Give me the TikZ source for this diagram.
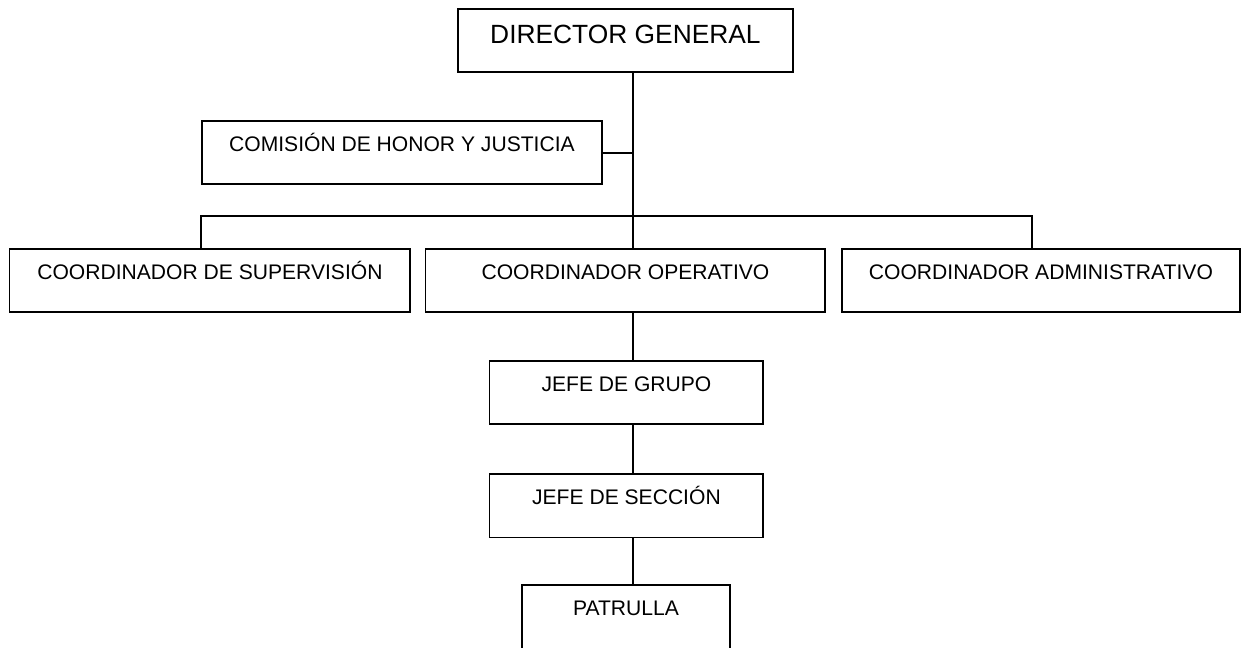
\documentclass[tikz,border=0pt]{standalone}
\usepackage{fontspec}
\setmainfont{Liberation Sans}
\tikzset{
  orgbox/.style={draw, line width=1.1pt, anchor=north west, inner sep=0pt,
    text height=0.61cm, text depth=0.66cm, font=\fontsize{12}{14}\selectfont},
  topbox/.style={orgbox, text height=0.70cm, text depth=0.56cm,
    font=\fontsize{15}{18}\selectfont}
}
\begin{document}
\begin{tikzpicture}[x=0.02cm,y=-0.02cm]
      \useasboundingbox (0,0) rectangle (1241,647);
      \clip (0,0) rectangle (1241,647);
      \path
        (457,8) node[topbox, minimum width=6.7cm] (dir){DIRECTOR GENERAL}
        (201,120) node[orgbox, minimum width=8cm] (com){COMISIÓN DE HONOR Y JUSTICIA}
        (8.5,248) node[orgbox, minimum width=8.02cm] (sup){COORDINADOR DE SUPERVISIÓN}
        (424.5,248) node[orgbox, minimum width=8.0cm] (ope){COORDINADOR OPERATIVO}
        (841,248) node[orgbox, minimum width=7.96cm] (adm){COORDINADOR ADMINISTRATIVO}
        (488.5,360) node[orgbox, minimum width=5.48cm] (grupo){JEFE DE GRUPO}
        (488.5,473) node[orgbox, minimum width=5.48cm] (seccion){JEFE DE SECCIÓN}
        (521,584) node[orgbox, minimum width=4.16cm] (patrulla){PATRULLA};
      \coordinate (trunk) at (632.7,216);
      \coordinate (barL) at (200.7,216);
      \coordinate (barR) at (1032.3,216);
      \begin{scope}[-, line width=1.1pt]
        \draw (dir.south -| trunk) to (ope.north -| trunk);
        \draw (com.east) to (com.east -| trunk);
        \draw (barL |- sup.north) -- (barL) -- (barR) -- (barR |- adm.north);
        \draw (ope.south -| trunk) to (grupo.north -| trunk);
        \draw (grupo.south -| trunk) to (seccion.north -| trunk);
        \draw (seccion.south -| trunk) to (patrulla.north -| trunk);
      \end{scope}
    \end{tikzpicture}
\end{document}
